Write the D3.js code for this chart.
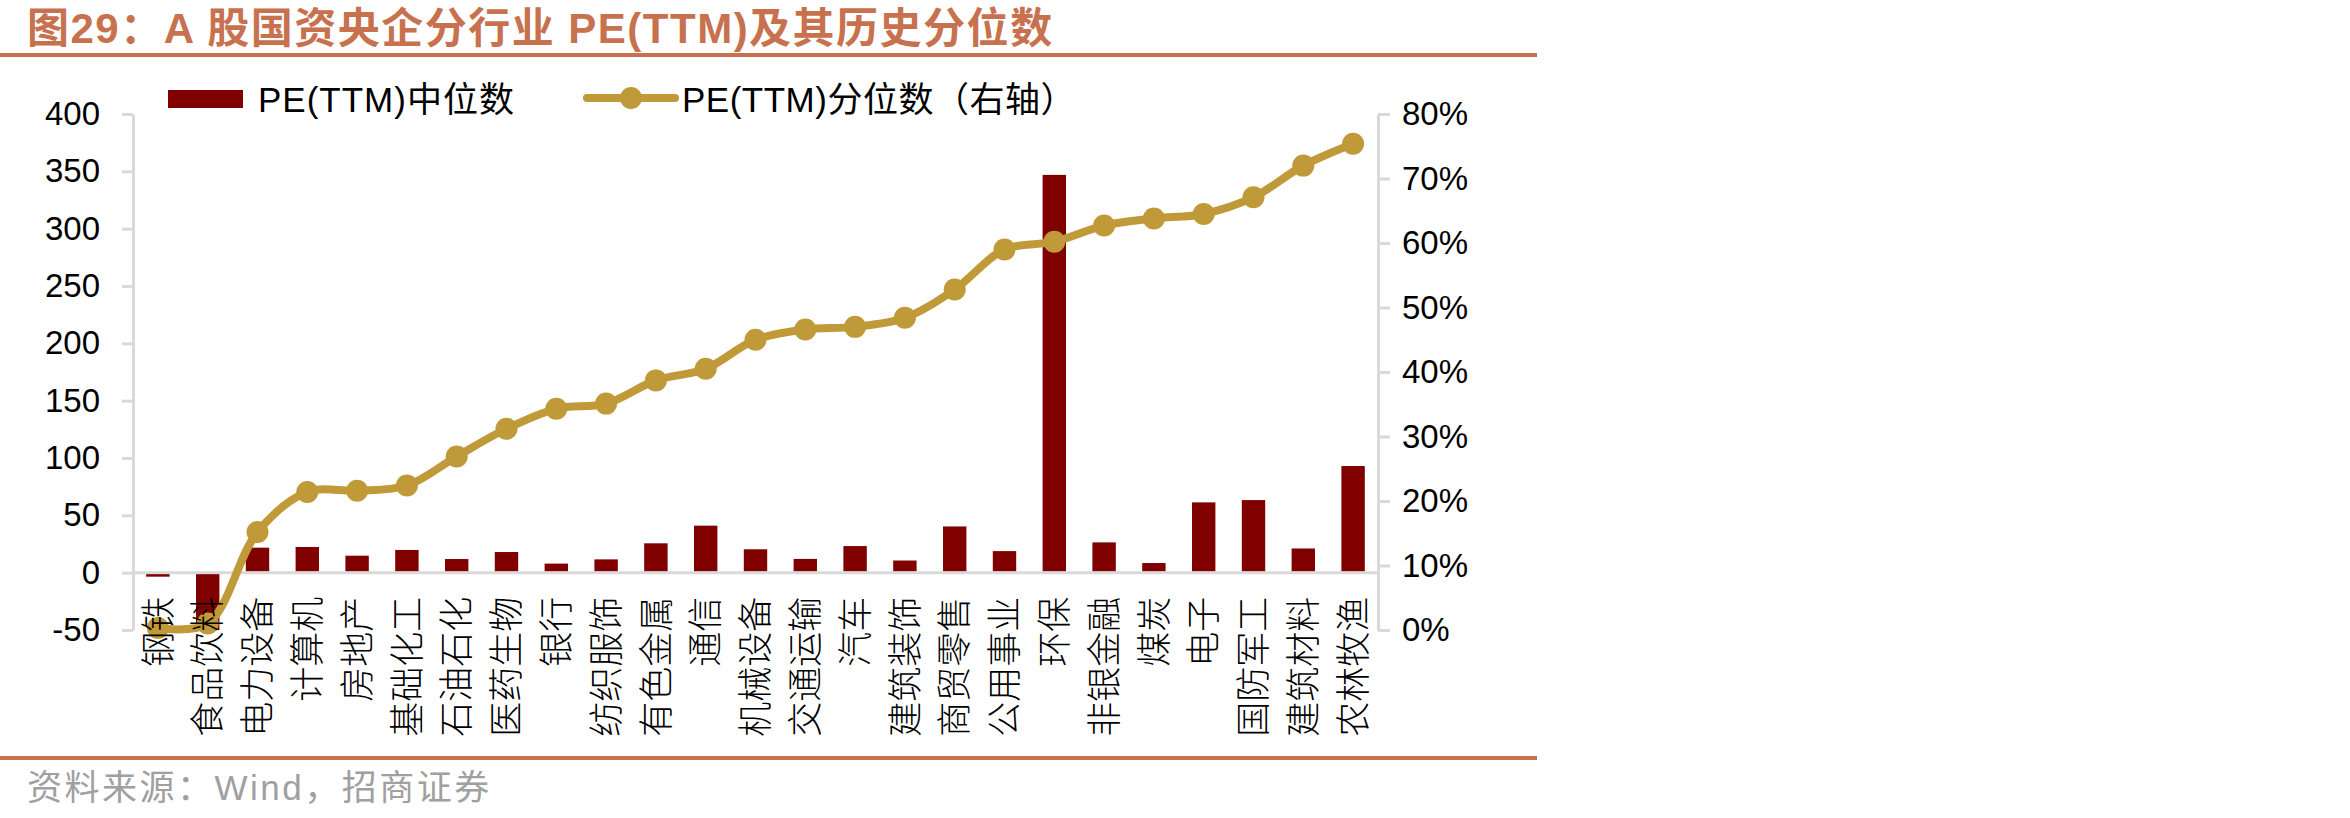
<!DOCTYPE html>
<html>
<head>
<meta charset="utf-8">
<script src="https://cdn.jsdelivr.net/npm/d3@7/dist/d3.min.js"></script>
<style>
  html, body { margin: 0; padding: 0; background: #ffffff; }
  svg { display: block; }
</style>
</head>
<body>
<svg id="chart" width="2350" height="818"></svg>
<script>
// ---------- data ----------
const categories = ["钢铁","食品饮料","电力设备","计算机","房地产","基础化工","石油石化","医药生物","银行","纺织服饰","有色金属","通信","机械设备","交通运输","汽车","建筑装饰","商贸零售","公用事业","环保","非银金融","煤炭","电子","国防军工","建筑材料","农林牧渔"];
const peMedian = [-3.5, -50, 21.8, 22.4, 14.8, 19.8, 11.9, 18.0, 7.9, 11.6, 25.6, 41.0, 20.4, 12.0, 23.2, 10.6, 40.3, 18.8, 346.9, 26.4, 8.4, 61.3, 63.3, 21.1, 93.0];
const pePercentile = [0.3, 1.0, 15.2, 21.4, 21.6, 22.4, 26.9, 31.2, 34.3, 35.1, 38.7, 40.5, 45.0, 46.6, 47.0, 48.4, 52.8, 59.0, 60.2, 62.7, 63.8, 64.5, 67.1, 72.0, 75.4];
const leftTicks = [-50, 0, 50, 100, 150, 200, 250, 300, 350, 400];
const rightTicks = [0, 10, 20, 30, 40, 50, 60, 70, 80];
const titleText = "图29：A 股国资央企分行业 PE(TTM)及其历史分位数";
const legendLabels = ["PE(TTM)中位数", "PE(TTM)分位数（右轴）"];
const sourceText = "资料来源：Wind，招商证券";

// ---------- style ----------
const barColor = "#800000";
const lineColor = "#C09A38";
const accent = "#C8714F";
const axisColor = "#D9D9D9";
const latin = "'Liberation Sans', Arial, 'Noto Sans CJK SC', sans-serif";

const svg = d3.select("#chart");
const plot = { left: 133, right: 1378, top: 114, bottom: 630 };

const x = d3.scaleBand().domain(categories).range([plot.left, plot.right])
  .paddingInner(0.53).paddingOuter(0.265);
const yL = d3.scaleLinear().domain([-50, 400]).range([plot.bottom, plot.top]);
const yR = d3.scaleLinear().domain([0, 80]).range([plot.bottom, plot.top]);
const cx = d => x(d) + x.bandwidth() / 2;

// ---------- title & frame lines ----------
svg.append("text")
  .attr("x", 27).attr("y", 43)
  .attr("font-family", latin)
  .attr("font-weight", "bold")
  .attr("font-size", 42)
  .attr("letter-spacing", 1.5)
  .attr("fill", accent)
  .text(titleText);
svg.append("rect").attr("x", 0).attr("y", 53).attr("width", 1537).attr("height", 4).attr("fill", accent);
svg.append("rect").attr("x", 0).attr("y", 756).attr("width", 1537).attr("height", 4).attr("fill", accent);
svg.append("text")
  .attr("x", 27).attr("y", 788).attr("dy", "0.35em")
  .attr("font-family", latin)
  .attr("font-size", 35)
  .attr("letter-spacing", 2.5)
  .attr("fill", "#A0A0A0")
  .text(sourceText);

// ---------- axes ----------
const leftAxis = d3.axisLeft(yL).tickValues(leftTicks).tickSize(11).tickSizeOuter(0).tickPadding(22)
  .tickFormat(d => String(d));
const gL = svg.append("g").attr("transform", `translate(${plot.left},0)`).call(leftAxis);
const rightAxis = d3.axisRight(yR).tickValues(rightTicks).tickSize(12).tickSizeOuter(0).tickPadding(12)
  .tickFormat(d => d + "%");
const gR = svg.append("g").attr("transform", `translate(${plot.right},0)`).call(rightAxis);
[gL, gR].forEach(g => {
  g.select(".domain").attr("stroke", axisColor).attr("stroke-width", 3);
  g.selectAll(".tick line").attr("stroke", axisColor).attr("stroke-width", 3);
  g.selectAll(".tick text").attr("font-family", latin).attr("font-size", 33).attr("fill", "#000");
});

// zero line
svg.append("line")
  .attr("x1", plot.left).attr("x2", plot.right)
  .attr("y1", yL(0)).attr("y2", yL(0))
  .attr("stroke", axisColor).attr("stroke-width", 3);

// ---------- bars ----------
svg.append("g").selectAll("rect").data(categories).join("rect")
  .attr("x", d => x(d))
  .attr("width", x.bandwidth())
  .attr("y", (d, i) => Math.min(yL(0), yL(peMedian[i])) + (peMedian[i] >= 0 ? 0 : 1.5))
  .attr("height", (d, i) => Math.abs(yL(peMedian[i]) - yL(0)) - 1.5)
  .attr("fill", barColor);

// ---------- line series ----------
const line = d3.line()
  .x((d, i) => cx(categories[i]))
  .y(d => yR(d))
  .curve(d3.curveCatmullRom.alpha(0.5));
svg.append("path").datum(pePercentile)
  .attr("d", line)
  .attr("fill", "none")
  .attr("stroke", lineColor)
  .attr("stroke-width", 8)
  .attr("stroke-linejoin", "round")
  .attr("stroke-linecap", "round");
svg.append("g").selectAll("circle").data(pePercentile).join("circle")
  .attr("cx", (d, i) => cx(categories[i]))
  .attr("cy", d => yR(d))
  .attr("r", 11)
  .attr("fill", lineColor);

// ---------- category labels ----------
svg.append("g").selectAll("text").data(categories).join("text")
  .attr("transform", d => `translate(${cx(d)},${yL(0) + 24}) rotate(-90)`)
  .attr("text-anchor", "end")
  .attr("dy", "0.36em")
  .attr("font-family", "'Noto Sans CJK SC', sans-serif")
  .attr("font-weight", 300)
  .attr("font-size", 35)
  .attr("fill", "#000")
  .text(d => d);

// ---------- legend ----------
const lg = svg.append("g");
lg.append("rect").attr("x", 168).attr("y", 90).attr("width", 75).attr("height", 18).attr("fill", barColor);
lg.append("text").attr("x", 258).attr("y", 99).attr("dy", "0.36em")
  .attr("font-family", latin).attr("font-size", 35).attr("letter-spacing", 1).attr("fill", "#000").text(legendLabels[0]);
lg.append("line").attr("x1", 587).attr("x2", 675).attr("y1", 98).attr("y2", 98)
  .attr("stroke", lineColor).attr("stroke-width", 8).attr("stroke-linecap", "round");
lg.append("circle").attr("cx", 631).attr("cy", 98).attr("r", 11).attr("fill", lineColor);
lg.append("text").attr("x", 682).attr("y", 99).attr("dy", "0.36em")
  .attr("font-family", latin).attr("font-size", 35).attr("letter-spacing", 0.5).attr("fill", "#000").text(legendLabels[1]);
</script>
</body>
</html>
